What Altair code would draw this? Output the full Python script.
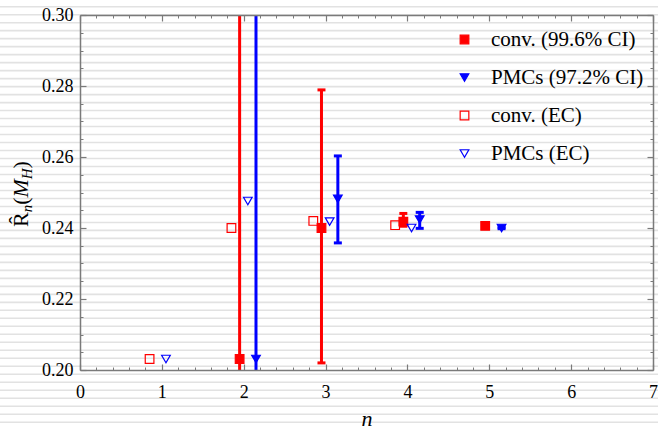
import altair as alt
import pandas as pd

# ---------------- data ----------------
SERIES = ["conv. (99.6% CI)", "PMCs (97.2% CI)", "conv. (EC)", "PMCs (EC)"]

N_CI = [2, 3, 4, 5]
CONV_CI = [0.2031, 0.2400, 0.2418, 0.2406]
CONV_LO = [0.15, 0.2020, 0.2405, 0.2404]
CONV_HI = [0.35, 0.2789, 0.2441, 0.2408]
PMC_CI = [0.2031, 0.2482, 0.2424, 0.2400]
PMC_LO = [0.15, 0.2358, 0.2399, 0.2398]
PMC_HI = [0.35, 0.2603, 0.2444, 0.2402]

N_EC = [1, 2, 3, 4]
CONV_EC = [0.2031, 0.2400, 0.2420, 0.2408]
PMC_EC = [0.2031, 0.2476, 0.2418, 0.2400]

X_TICKS = [0, 1, 2, 3, 4, 5, 6, 7]
Y_TICKS = [0.20, 0.22, 0.24, 0.26, 0.28, 0.30]
X_MINOR = [round(i / 5, 2) for i in range(36) if i % 5]
Y_MINOR = [round(0.2 + 0.005 * i, 3) for i in range(21) if i % 4]

# horizontal dodge of each series around n (layout)
DODGE = {SERIES[0]: -0.05, SERIES[1]: 0.15, SERIES[2]: -0.15, SERIES[3]: 0.05}

RED, BLUE = "#ff0000", "#0000ff"
FONT = "'Liberation Serif', 'Times New Roman', Times, serif"
W, H = 573, 355
XS = alt.Scale(domain=[0, 7], nice=False, zero=False)
YS = alt.Scale(domain=[0.2, 0.3], nice=False, zero=False)

# ---------------- tables ----------------
rows = []
for s, ns, vs in [(SERIES[0], N_CI, CONV_CI), (SERIES[1], N_CI, PMC_CI),
                  (SERIES[2], N_EC, CONV_EC), (SERIES[3], N_EC, PMC_EC)]:
    for n, v in zip(ns, vs):
        rows.append({"series": s, "x": n + DODGE[s], "y": v})
pts = pd.DataFrame(rows)

conv_bar = pd.DataFrame({"x": [n + DODGE[SERIES[0]] for n in N_CI], "lo": CONV_LO, "hi": CONV_HI})
pmc_bar = pd.DataFrame({"x": [n + DODGE[SERIES[1]] for n in N_CI], "lo": PMC_LO, "hi": PMC_HI})
conv_cap = pd.concat([conv_bar[["x"]].assign(y=conv_bar["lo"]), conv_bar[["x"]].assign(y=conv_bar["hi"])])
pmc_cap = pd.concat([pmc_bar[["x"]].assign(y=pmc_bar["lo"]), pmc_bar[["x"]].assign(y=pmc_bar["hi"])])

# faint horizontal background stripes of the reference (decoration)
STRIPES = pd.DataFrame({"y": [0.3 - (6.7 + 7.99 * k - 15) / (H / 0.1) for k in range(54)]})

# ---------------- layers ----------------
stripes = alt.Chart(STRIPES).mark_rule(color="#e2e2e2", strokeWidth=1.6, clip=False).encode(
    y=alt.Y("y:Q", scale=YS, axis=None),
    x=alt.value(-80), x2=alt.value(W + 5))


def axis_layer(xaxis, yaxis):
    return alt.Chart(alt.Data(values=[{"ax": 0, "ay": 0.25}])).mark_point(opacity=0).encode(
        x=alt.X("ax:Q", scale=XS, axis=xaxis),
        y=alt.Y("ay:Q", scale=YS, axis=yaxis))


TC = "#7a7a7a"
common = dict(grid=False, domain=False, title=None, zindex=1)
labels_layer = axis_layer(
    alt.Axis(values=X_TICKS, format="d", ticks=False, tickSize=0, domain=True, domainColor=TC,
             domainWidth=1.5, grid=False, zindex=1,
             labelFont=FONT, labelFontSize=18, labelColor="black", labelPadding=13,
             labelFlush=False, labelOverlap=False,
             title="n", titleFont=FONT, titleFontSize=22, titleFontStyle="italic",
             titleFontWeight="normal", titleBaseline="alphabetic", titleY=55, titleColor="black"),
    alt.Axis(values=Y_TICKS, format=".2f", ticks=False, tickSize=0, domain=True, domainColor=TC,
             domainWidth=1.5, grid=False, zindex=1,
             labelFont=FONT, labelFontSize=18, labelColor="black", labelPadding=7,
             labelOverlap=False, labelFlush=False, title=None))
frame_tr = axis_layer(
    alt.Axis(orient="top", values=X_TICKS, labels=False, ticks=False, tickSize=0, domain=True,
             domainColor=TC, domainWidth=1.5, grid=False, title=None, zindex=1),
    alt.Axis(orient="right", values=Y_TICKS, labels=False, ticks=False, tickSize=0, domain=True,
             domainColor=TC, domainWidth=1.5, grid=False, title=None, zindex=1))
major_bl = axis_layer(
    alt.Axis(orient="bottom", values=X_TICKS, labels=False, tickSize=6, offset=-6, tickColor=TC, tickWidth=1.2, **common),
    alt.Axis(orient="left", values=Y_TICKS, labels=False, tickSize=6, offset=-6, tickColor=TC, tickWidth=1.2, **common))
minor_bl = axis_layer(
    alt.Axis(orient="bottom", values=X_MINOR, labels=False, tickSize=3, offset=-3, tickColor=TC, tickWidth=1, **common),
    alt.Axis(orient="left", values=Y_MINOR, labels=False, tickSize=3, offset=-3, tickColor=TC, tickWidth=1, **common))
major_tr = axis_layer(
    alt.Axis(orient="top", values=X_TICKS, labels=False, tickSize=6, offset=-6, tickColor=TC, tickWidth=1.2, **common),
    alt.Axis(orient="right", values=Y_TICKS, labels=False, tickSize=6, offset=-6, tickColor=TC, tickWidth=1.2, **common))
minor_tr = axis_layer(
    alt.Axis(orient="top", values=X_MINOR, labels=False, tickSize=3, offset=-3, tickColor=TC, tickWidth=1, **common),
    alt.Axis(orient="right", values=Y_MINOR, labels=False, tickSize=3, offset=-3, tickColor=TC, tickWidth=1, **common))


def bar_layers(bars, caps, color):
    r = alt.Chart(bars).mark_rule(color=color, strokeWidth=3, clip=True).encode(
        x=alt.X("x:Q", scale=XS, axis=None),
        y=alt.Y("lo:Q", scale=YS, axis=None), y2="hi:Q")
    c = alt.Chart(caps).mark_tick(color=color, orient="horizontal", size=8, thickness=3,
                                  opacity=1, clip=True).encode(
        x=alt.X("x:Q", scale=XS, axis=None),
        y=alt.Y("y:Q", scale=YS, axis=None))
    return [r, c]


LEG = alt.Legend(title=None, orient="none", legendX=374, legendY=14, labelFont=FONT,
                 labelFontSize=21, labelColor="black", symbolSize=75, symbolStrokeWidth=1.2,
                 rowPadding=16, labelOffset=16, padding=0, labelLimit=300)
points = alt.Chart(pts).mark_point(filled=False, size=75, strokeWidth=1.2, opacity=1).encode(
    x=alt.X("x:Q", scale=XS, axis=None),
    y=alt.Y("y:Q", scale=YS, axis=None),
    shape=alt.Shape("series:N", scale=alt.Scale(domain=SERIES, range=["square", "triangle-down", "square", "triangle-down"]), legend=LEG),
    fill=alt.Fill("series:N", scale=alt.Scale(domain=SERIES, range=[RED, BLUE, "transparent", "transparent"]), legend=LEG),
    stroke=alt.Stroke("series:N", scale=alt.Scale(domain=SERIES, range=[RED, BLUE, RED, BLUE]), legend=LEG),
)

# y-axis title  R̂_n(M_H), built from pieces on a rotated baseline
one = alt.Data(values=[{"k": 1}])
TX, TY = -52, 212
pieces = [("R\u0302", 0, 0, 22, "normal"), ("n", 14.7, 4, 15, "italic"), ("(", 22.2, 0, 22, "normal"),
          ("M", 29.5, 0, 22, "italic"), ("H", 47.8, 4, 15, "italic"), (")", 58.6, 0, 22, "normal")]
title_layers = [
    alt.Chart(one).mark_text(text=t, angle=270, align="left", baseline="alphabetic", font=FONT,
                             fontSize=fs, fontStyle=st, dx=dx, dy=dy, color="black").encode(
        x=alt.value(TX), y=alt.value(TY))
    for t, dx, dy, fs, st in pieces
]

layers = [stripes, labels_layer, frame_tr, major_bl, minor_bl, major_tr, minor_tr]
layers += bar_layers(conv_bar, conv_cap, RED) + bar_layers(pmc_bar, pmc_cap, BLUE)
layers += [points] + title_layers

chart = alt.layer(*layers).resolve_axis(x="independent", y="independent").properties(
    width=W, height=H,
    autosize=alt.AutoSizeParams(type="none"),
    padding={"left": 80, "top": 15, "right": 5, "bottom": 57},
    background="white",
).configure_view(stroke=None)

chart.save("out.html", embed_options={"renderer": "svg", "actions": False})
